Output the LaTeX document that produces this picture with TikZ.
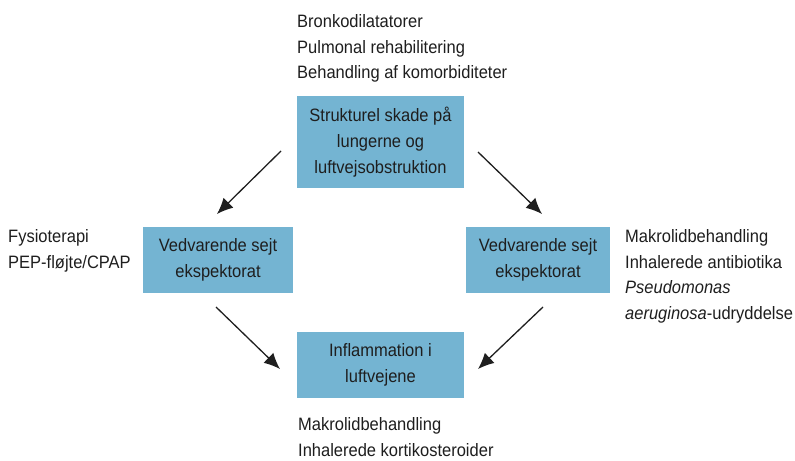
\documentclass[tikz,border=0pt]{standalone}
\usepackage{fontspec}
\setmainfont{Liberation Sans}[FakeStretch=0.92]
\usetikzlibrary{positioning, arrows.meta, calc}
\definecolor{boxblue}{RGB}{116,180,210}
\definecolor{txtgray}{RGB}{30,30,30}

\begin{document}
\begin{tikzpicture}[
    x=1bp, y=-1bp,
    box/.style={
        rectangle,
        fill=boxblue,
        text=txtgray,
        inner sep=0pt,
        align=center,
        font=\fontsize{18}{26}\selectfont
    },
    arrow/.style={
        -{Latex[length=16bp, width=14bp]},
        line width=1.3bp,
        color=black!88
    },
    lbl/.style={
        anchor=north west,
        inner sep=0pt,
        align=left,
        text=txtgray,
        font=\fontsize{18}{26}\selectfont
    }
]
\useasboundingbox (0,0) rectangle (795,461);

% Boxes
\node[box, minimum width=167, minimum height=92] (damage) at (380.5,142)
    {Strukturel skade på\\lungerne og\\luftvejsobstruktion};
\node[box, minimum width=150, minimum height=66] (sputumL) at (218,260)
    {Vedvarende sejt\\ekspektorat};
\node[box, minimum width=144, minimum height=66] (sputumR) at (538,260)
    {Vedvarende sejt\\ekspektorat};
\node[box, minimum width=167, minimum height=66] (inflam) at (380.5,365)
    {Inflammation i\\luftvejene};

% Treatment labels
\node[lbl] (txtTop) at (297,14)
    {Bronkodilatatorer\\Pulmonal rehabilitering\\Behandling af komorbiditeter};
\node[lbl] (txtLeft) at (8,229)
    {Fysioterapi\\PEP-fløjte/CPAP};
\node[lbl] (txtRight) at (625,229)
    {Makrolidbehandling\\Inhalerede antibiotika\\\textit{Pseudomonas}\\\textit{aeruginosa}-udryddelse};
\node[lbl] (txtBottom) at (298,417)
    {Makrolidbehandling\\Inhalerede kortikosteroider};

% Arrow ends
\coordinate (tlA) at (281,151);
\coordinate (tlB) at (217,214);
\coordinate (trA) at (478,152);
\coordinate (trB) at (542,214);
\coordinate (blA) at (216,307);
\coordinate (blB) at (280,369);
\coordinate (brA) at (543,307);
\coordinate (brB) at (478,369);

% Cycle arrows
\draw[arrow] (tlA) -- (tlB);
\draw[arrow] (trA) -- (trB);
\draw[arrow] (blA) -- (blB);
\draw[arrow] (brA) -- (brB);

\end{tikzpicture}
\end{document}
